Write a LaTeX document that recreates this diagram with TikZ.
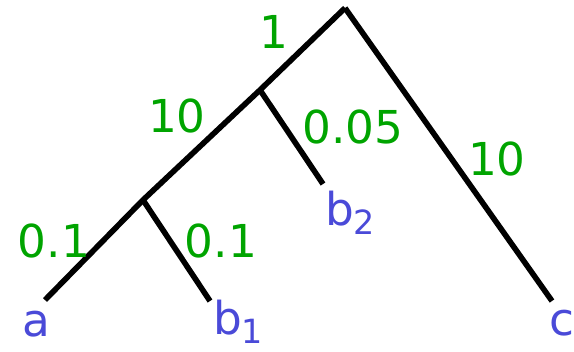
\documentclass[tikz,border=0pt]{standalone}
\usepackage{fontspec}
\setmainfont{DejaVu Sans}
\usepackage{xcolor}
\definecolor{wgreen}{RGB}{0,164,0}
\definecolor{lblue}{RGB}{74,74,216}
\newcommand{\subnum}[1]{\raisebox{-7pt}{\fontsize{25}{27}\selectfont #1}}

\begin{document}
\begin{tikzpicture}[x=0.75pt,y=-0.75pt,
	branch/.style={line width=4.2pt,black},
	weight/.style={wgreen,anchor=base,inner sep=0pt,font=\fontsize{34}{40}\selectfont},
	leaf/.style={lblue,anchor=base,inner sep=0pt,font=\fontsize{34}{40}\selectfont}]
			\useasboundingbox (0,0) rectangle (574,351);
			\coordinate (R) at (345,8);
			\coordinate (N1) at (260,90);
			\coordinate (N2) at (143,200);
			\coordinate (A) at (45,300);
			\coordinate (B1) at (210,301);
			\coordinate (B2) at (323,184);
			\coordinate (C) at (552,301);
			
			\draw[branch] (R)--(N1)--(N2)--(A);
			\draw[branch] (R)--(C);
			\draw[branch] (N1)--(B2);
			\draw[branch] (N2)--(B1);
			
			\node[weight] (w1) at (274,48) {1};
			\node[weight] (w2) at (177,132) {10};
			\node[weight] (w3) at (353,143) {0.05};
			\node[weight] (w4) at (497,175) {10};
			\node[weight] (w5) at (54,257) {0.1};
			\node[weight] (w6) at (221,257) {0.1};
			
			\node[leaf] (a) at (36,336) {a};
			\node[leaf] (b1) at (238,334) {b\subnum{1}};
			\node[leaf] (b2) at (350,225) {b\subnum{2}};
			\node[leaf] (c) at (562,335) {c};
		\end{tikzpicture}
\end{document}
